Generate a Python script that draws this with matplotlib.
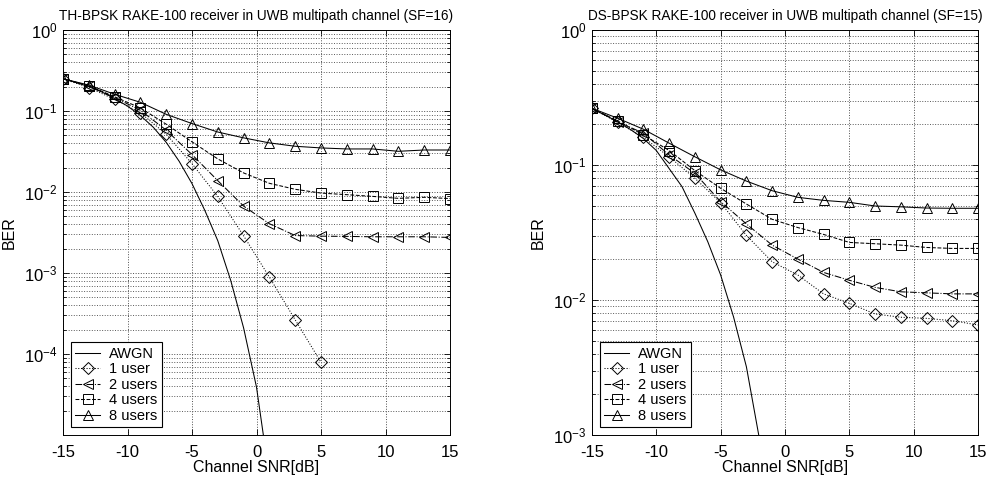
import numpy as np
import matplotlib
matplotlib.use("Agg")
import matplotlib.pyplot as plt
from matplotlib.ticker import FixedLocator, FuncFormatter, LogLocator, NullFormatter

plt.rcParams['font.family'] = ['Liberation Sans', 'DejaVu Sans']
plt.rcParams['mathtext.fontset'] = 'custom'
plt.rcParams['mathtext.rm'] = 'Liberation Sans'
plt.rcParams['mathtext.it'] = 'Liberation Sans'

# ---------------- data ----------------
snr = [-15, -13, -11, -9, -7, -5, -3, -1, 1, 3, 5, 7, 9, 11, 13, 15]

# Left: TH-BPSK (SF=16)
th_awgn_snr = [-15, -14, -13, -12, -11, -10, -9, -8, -7, -6, -5, -4, -3, -2, -1, 0, 1]
th_awgn = [0.25, 0.225, 0.20, 0.172, 0.143, 0.115, 0.088, 0.063, 0.041, 0.024,
           0.0127, 0.0059, 0.0025, 0.00081, 0.00021, 3.9e-5, 3e-6]
th_1user_snr = [-15, -13, -11, -9, -7, -5, -3, -1, 1, 3, 5]
th_1user = [0.25, 0.195, 0.139, 0.095, 0.0517, 0.0224, 0.0088, 0.00288, 0.000888, 0.000264, 7.9e-5]
th_2users = [0.25, 0.203, 0.147, 0.102, 0.058, 0.029, 0.0138, 0.0067, 0.00406, 0.0029,
             0.00285, 0.00283, 0.0028, 0.0028, 0.0028, 0.00275]
th_4users = [0.25, 0.205, 0.15, 0.109, 0.0687, 0.0416, 0.0256, 0.0172, 0.0128, 0.0108,
             0.0097, 0.00927, 0.00883, 0.00835, 0.0086, 0.0083]
th_8users = [0.25, 0.209, 0.161, 0.128, 0.091, 0.070, 0.055, 0.0466, 0.0404, 0.0367,
             0.035, 0.034, 0.034, 0.0318, 0.033, 0.033]

# Right: DS-BPSK (SF=15)
ds_awgn_snr = [-15, -14, -13, -12, -11, -10, -9, -8, -7, -6, -5, -4, -3, -2, -1]
ds_awgn = [0.26, 0.235, 0.208, 0.183, 0.157, 0.128, 0.094, 0.069, 0.0439, 0.027,
           0.0153, 0.0075, 0.0032, 0.00095, 0.0003]
ds_1user = [0.263, 0.207, 0.160, 0.115, 0.0797, 0.0526, 0.0301, 0.0192, 0.0153, 0.0111,
            0.00945, 0.00788, 0.00745, 0.00731, 0.00703, 0.00653]
ds_2users = [0.263, 0.209, 0.172, 0.1186, 0.0867, 0.0535, 0.0366, 0.0255, 0.0201, 0.016,
             0.014, 0.0124, 0.0115, 0.0113, 0.0111, 0.0111]
ds_4users = [0.263, 0.212, 0.167, 0.128, 0.0908, 0.0672, 0.0514, 0.0396, 0.0344, 0.0306,
             0.0267, 0.0261, 0.0255, 0.0245, 0.0241, 0.0241]
ds_8users = [0.263, 0.222, 0.184, 0.145, 0.115, 0.092, 0.076, 0.0645, 0.0576, 0.0547,
             0.0529, 0.0497, 0.049, 0.048, 0.0478, 0.0478]

labels = ['AWGN', '1 user', '2 users', '4 users', '8 users']
titles = ['TH-BPSK RAKE-100 receiver in UWB multipath channel (SF=16)',
          'DS-BPSK RAKE-100 receiver in UWB multipath channel (SF=15)']
xticks = [-15, -10, -5, 0, 5, 10, 15]

# ---------------- figure ----------------
fig = plt.figure(figsize=(9.88, 4.82), dpi=100)
axL = fig.add_axes([63/988, 1-435/482, 387/988, 405/482])
axR = fig.add_axes([592/988, 1-435/482, 386/988, 405/482])

lw = 0.75
mk = dict(markersize=7, markerfacecolor='none', markeredgecolor='black', markeredgewidth=0.7)

def sci(v, pos):
    e = int(round(np.log10(v)))
    return r'$\mathregular{10^{%d}}$' % e

def draw(ax, awgn_x, awgn_y, u1x, u1y, u2, u4, u8, ylo, yticks, title):
    ax.plot(awgn_x, awgn_y, color='black', lw=lw, ls='-', label=labels[0])
    ax.plot(u1x, u1y, color='black', lw=lw, ls=':', marker='D', label=labels[1],
            **{**mk, 'markersize': 6})
    ax.plot(snr, u2, color='black', lw=lw, ls='-.', marker='<', label=labels[2], **mk)
    ax.plot(snr, u4, color='black', lw=lw, ls='--', marker='s', label=labels[3],
            **{**mk, 'markersize': 6.5})
    ax.plot(snr, u8, color='black', lw=lw, ls='-', marker='^', label=labels[4], **mk)
    ax.set_yscale('log')
    ax.set_xlim(-15, 15)
    ax.set_ylim(ylo, 1)
    ax.set_xticks(xticks)
    ax.set_xticklabels([str(t) for t in xticks])
    ax.yaxis.set_major_locator(FixedLocator(yticks))
    ax.yaxis.set_major_formatter(FuncFormatter(sci))
    ax.yaxis.set_minor_locator(LogLocator(base=10, subs=np.arange(2, 10), numticks=20))
    ax.yaxis.set_minor_formatter(NullFormatter())
    ax.grid(True, which='major', ls=':', color='0.3', lw=0.7)
    ax.grid(True, which='minor', axis='y', ls=':', color='0.35', lw=0.7)
    ax.tick_params(which='both', direction='in', top=True, right=True, labelsize=12,
                   width=0.6)
    ax.tick_params(axis='y', which='major', pad=4)
    ax.tick_params(axis='x', which='major', pad=7)
    ax.tick_params(which='major', length=4)
    ax.tick_params(which='minor', length=2)
    for s in ax.spines.values():
        s.set_linewidth(0.7)
    ax.set_xlabel('Channel SNR[dB]', fontsize=11.5, labelpad=0)
    ax.set_ylabel('BER', fontsize=11.5, labelpad=5)
    ax.set_title(title, fontsize=9.8, pad=7)
    leg = ax.legend(loc='lower left', fontsize=10.5, frameon=True, fancybox=False,
                    edgecolor='black', framealpha=1, handlelength=1.7,
                    handletextpad=0.6, labelspacing=0.1, borderaxespad=0.55,
                    borderpad=0.3)
    leg.get_frame().set_linewidth(0.8)

draw(axL, th_awgn_snr, th_awgn, th_1user_snr, th_1user, th_2users, th_4users, th_8users,
     1e-5, [1e-4, 1e-3, 1e-2, 1e-1, 1], titles[0])
draw(axR, ds_awgn_snr, ds_awgn, snr, ds_1user, ds_2users, ds_4users, ds_8users,
     1e-3, [1e-3, 1e-2, 1e-1, 1], titles[1])

fig.savefig('out.png', dpi=100, facecolor='white')
